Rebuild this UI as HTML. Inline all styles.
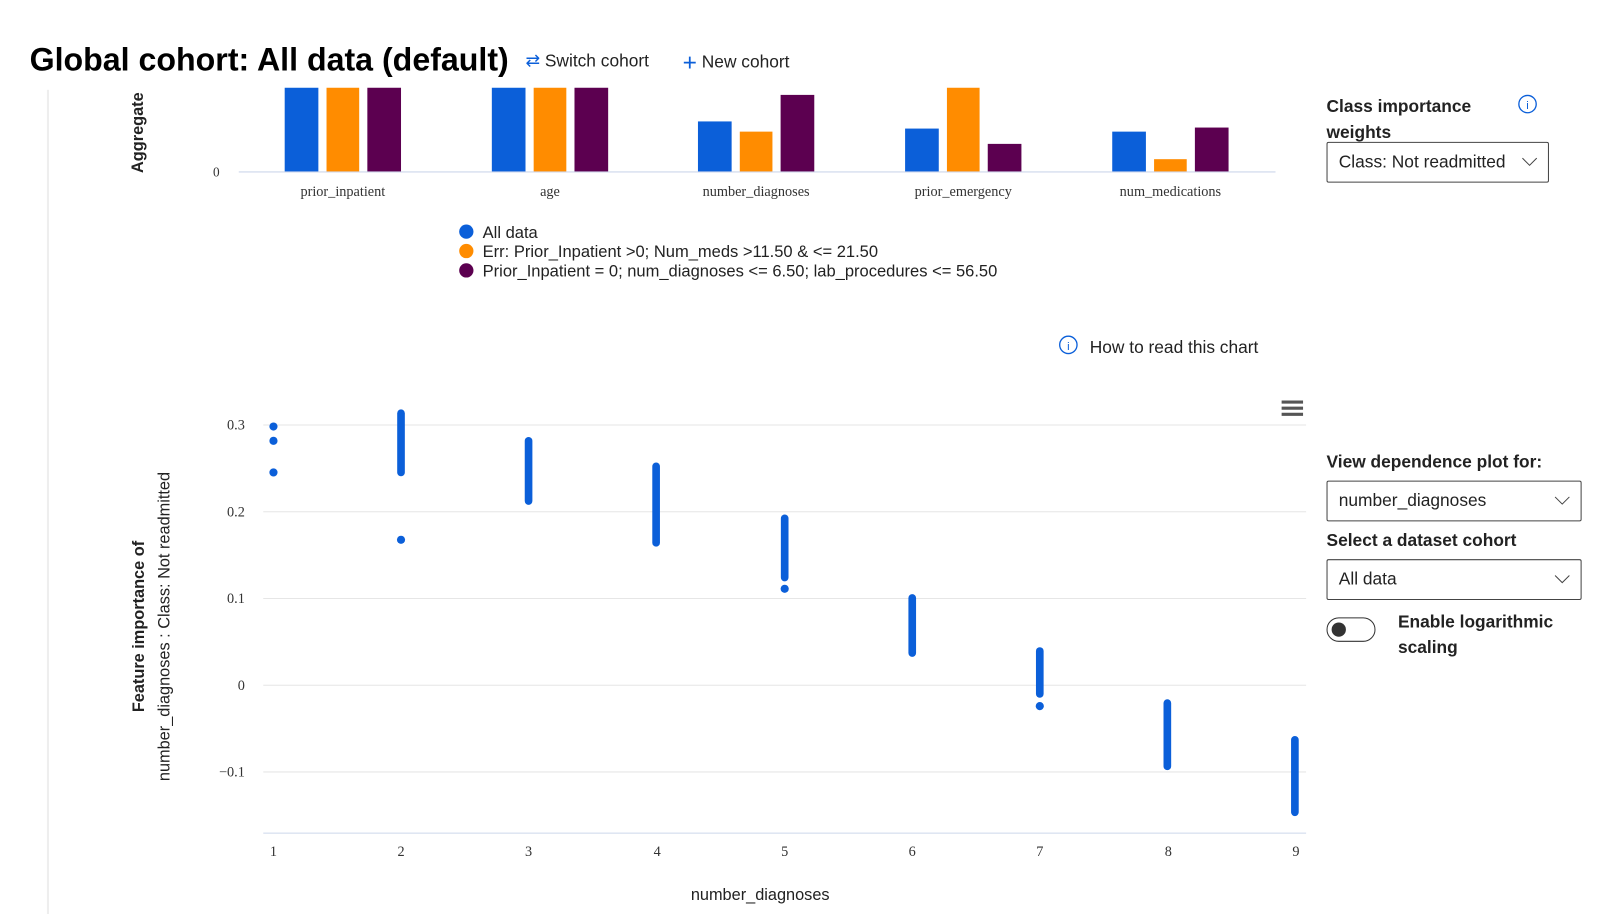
<!DOCTYPE html>
<html><head><meta charset="utf-8"><style>
html,body{margin:0;width:1600px;height:914px;background:#fff;overflow:hidden}
body{font-family:"Liberation Sans",sans-serif;position:relative}
#w{position:absolute;left:0;top:0;width:1568px;height:896px;transform:scale(1.0204);transform-origin:0 0}
.a{position:absolute;white-space:nowrap}
.dd{position:absolute;border:1px solid #444;border-radius:2px;box-sizing:border-box;font-size:17px;padding-left:11px;color:#222}
.dd svg{position:absolute;right:10px;top:50%;margin-top:-5px}
.lb{font-size:17px;font-weight:bold;color:#222}
</style></head><body><div id="w">
<div class="a" style="left:29px;top:40px;font-size:31.5px;font-weight:bold;color:#000">Global cohort: All data (default)</div>
<div class="a" style="left:515px;top:50px;font-size:17px;color:#222"><span style="color:#0b5fd9">⇄</span> Switch cohort</div>
<div class="a" style="left:669px;top:48px;font-size:17px;color:#222"><span style="color:#0b5fd9;font-size:24px;vertical-align:-3px">+</span> New cohort</div>
<div class="a" style="left:46px;top:88px;width:2px;height:830px;background:#eee"></div>
<svg class="a" style="left:0;top:0" width="1290" height="914" font-family="Liberation Serif, serif">
<text transform="translate(140,130) rotate(-90)" text-anchor="middle" font-family="Liberation Sans" font-weight="bold" font-size="16" fill="#222">Aggregate</text>
<text x="212" y="173" text-anchor="middle" font-size="13" fill="#333">0</text>
<line x1="234" y1="168.5" x2="1250" y2="168.5" stroke="#ccd6eb"/>
<g>
<rect x="279" y="86" width="33" height="82" fill="#0b5fd9"/><rect x="320" y="86" width="32" height="82" fill="#ff8c00"/><rect x="360" y="86" width="33" height="82" fill="#5c0050"/>
<rect x="482" y="86" width="33" height="82" fill="#0b5fd9"/><rect x="523" y="86" width="32" height="82" fill="#ff8c00"/><rect x="563" y="86" width="33" height="82" fill="#5c0050"/>
<rect x="684" y="119" width="33" height="49" fill="#0b5fd9"/><rect x="725" y="129" width="32" height="39" fill="#ff8c00"/><rect x="765" y="93" width="33" height="75" fill="#5c0050"/>
<rect x="887" y="126" width="33" height="42" fill="#0b5fd9"/><rect x="928" y="86" width="32" height="82" fill="#ff8c00"/><rect x="968" y="141" width="33" height="27" fill="#5c0050"/>
<rect x="1090" y="129" width="33" height="39" fill="#0b5fd9"/><rect x="1131" y="156" width="32" height="12" fill="#ff8c00"/><rect x="1171" y="125" width="33" height="43" fill="#5c0050"/>
</g>
<g font-size="14" fill="#333" text-anchor="middle">
<text x="336" y="192">prior_inpatient</text><text x="539" y="192">age</text><text x="741" y="192">number_diagnoses</text><text x="944" y="192">prior_emergency</text><text x="1147" y="192">num_medications</text>
</g>
<g font-family="Liberation Sans" font-size="16.2" fill="#222">
<circle cx="457" cy="227" r="7" fill="#0b5fd9"/><text x="473" y="233">All data</text>
<circle cx="457" cy="246" r="7" fill="#ff8c00"/><text x="473" y="252">Err: Prior_Inpatient &gt;0; Num_meds &gt;11.50 &amp; &lt;= 21.50</text>
<circle cx="457" cy="265" r="7" fill="#5c0050"/><text x="473" y="271">Prior_Inpatient = 0; num_diagnoses &lt;= 6.50; lab_procedures &lt;= 56.50</text>
</g>
<circle cx="1047" cy="338" r="8.5" fill="none" stroke="#0b5fd9" stroke-width="1.3"/><text x="1047" y="343" text-anchor="middle" font-family="Liberation Sans" font-size="11" fill="#0b5fd9">i</text>
<text x="1068" y="346" font-family="Liberation Sans" font-size="17" fill="#222">How to read this chart</text>
<g stroke="#555" stroke-width="3"><line x1="1256" y1="394" x2="1277" y2="394"/><line x1="1256" y1="400" x2="1277" y2="400"/><line x1="1256" y1="406" x2="1277" y2="406"/></g>
<g stroke="#e6e6e6"><line x1="258" y1="416.5" x2="1280" y2="416.5"/><line x1="258" y1="501.5" x2="1280" y2="501.5"/><line x1="258" y1="586.5" x2="1280" y2="586.5"/><line x1="258" y1="671.5" x2="1280" y2="671.5"/><line x1="258" y1="756.5" x2="1280" y2="756.5"/></g>
<line x1="258" y1="816.5" x2="1280" y2="816.5" stroke="#ccd6eb"/>
<g font-size="14" fill="#333" text-anchor="end"><text x="240" y="421">0.3</text><text x="240" y="506">0.2</text><text x="240" y="591">0.1</text><text x="240" y="676">0</text><text x="240" y="761">−0.1</text></g>
<g font-size="14" fill="#333" text-anchor="middle"><text x="268" y="839">1</text><text x="393" y="839">2</text><text x="518" y="839">3</text><text x="644" y="839">4</text><text x="769" y="839">5</text><text x="894" y="839">6</text><text x="1019" y="839">7</text><text x="1145" y="839">8</text><text x="1270" y="839">9</text></g>
<text x="745" y="882" text-anchor="middle" font-family="Liberation Sans" font-size="16" fill="#222">number_diagnoses</text>
<text transform="translate(141,614) rotate(-90)" text-anchor="middle" font-family="Liberation Sans" font-weight="bold" font-size="16" fill="#222">Feature importance of</text>
<text transform="translate(166,614) rotate(-90)" text-anchor="middle" font-family="Liberation Sans" font-size="16" fill="#222">number_diagnoses : Class: Not readmitted</text>
<g fill="#0b5fd9"><circle cx="268" cy="418" r="4"/><circle cx="268" cy="432" r="4"/><circle cx="268" cy="463" r="4"/><circle cx="393" cy="529" r="4"/><circle cx="769" cy="577" r="4"/><circle cx="1019" cy="692" r="4"/></g>
<g stroke="#0b5fd9" stroke-width="7.5" stroke-linecap="round">
<line x1="393" y1="405" x2="393" y2="463"/><line x1="518" y1="432" x2="518" y2="491"/><line x1="643" y1="457" x2="643" y2="532"/><line x1="769" y1="508" x2="769" y2="566"/><line x1="894" y1="586" x2="894" y2="640"/><line x1="1019" y1="638" x2="1019" y2="680"/><line x1="1144" y1="689" x2="1144" y2="751"/><line x1="1269" y1="725" x2="1269" y2="796"/>
</g>
</svg>
<div class="a lb" style="left:1300px;top:92px;line-height:25px">Class importance<br>weights</div>
<svg class="a" style="left:1487px;top:92px" width="20" height="20"><circle cx="10" cy="10" r="8.5" fill="none" stroke="#0b5fd9" stroke-width="1.3"/><text x="10" y="15" text-anchor="middle" font-size="11" fill="#0b5fd9">i</text></svg>
<div class="dd" style="left:1300px;top:139px;width:218px;height:40px;line-height:38px">Class: Not readmitted<svg width="16" height="10"><path d="M1 1l7 7 7-7" fill="none" stroke="#444"/></svg></div>
<div class="a lb" style="left:1300px;top:443px">View dependence plot for:</div>
<div class="dd" style="left:1300px;top:471px;width:250px;height:40px;line-height:38px">number_diagnoses<svg width="16" height="10"><path d="M1 1l7 7 7-7" fill="none" stroke="#444"/></svg></div>
<div class="a lb" style="left:1300px;top:520px">Select a dataset cohort</div>
<div class="dd" style="left:1300px;top:548px;width:250px;height:40px;line-height:38px">All data<svg width="16" height="10"><path d="M1 1l7 7 7-7" fill="none" stroke="#444"/></svg></div>
<div class="a" style="left:1300px;top:605px;width:48px;height:24px;border:1.5px solid #333;border-radius:13px;box-sizing:border-box"><div style="position:absolute;left:4px;top:4px;width:14px;height:14px;border-radius:50%;background:#333"></div></div>
<div class="a lb" style="left:1370px;top:597px;line-height:25px">Enable logarithmic<br>scaling</div>
</div></body></html>
